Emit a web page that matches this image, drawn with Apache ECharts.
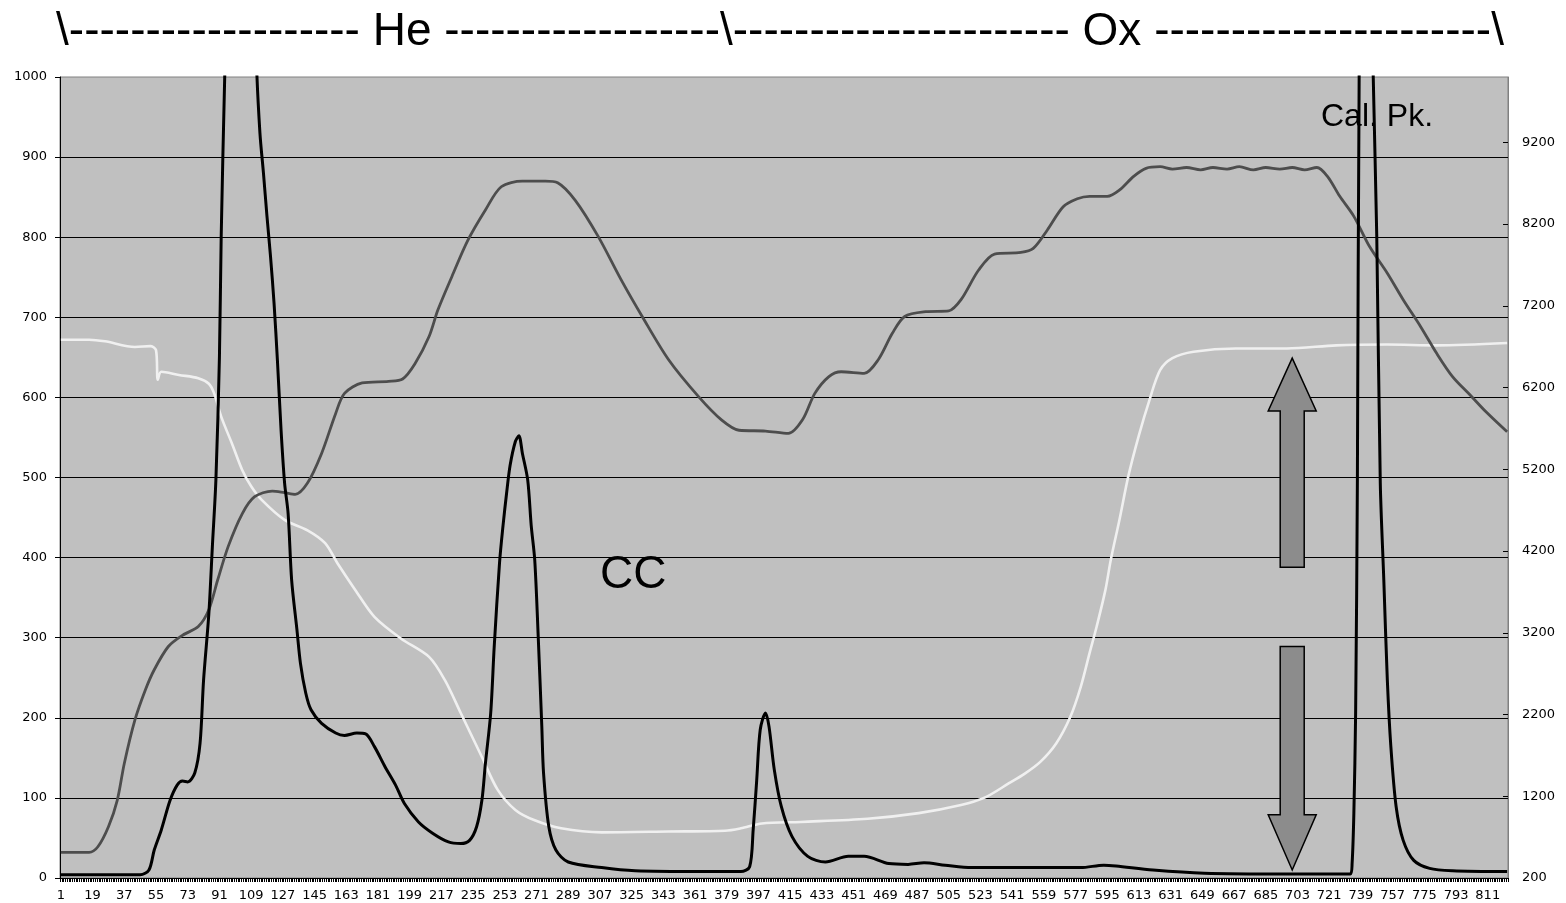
<!DOCTYPE html>
<html>
<head>
<meta charset="utf-8">
<script src="https://cdn.jsdelivr.net/npm/echarts@6/dist/echarts.min.js"></script>
<style>
html,body{margin:0;padding:0;background:#fff;}
#chart{width:1566px;height:903px;}
</style>
</head>
<body>
<div id="chart"></div>
<script>
// ---- data (sample number, value on left axis) ----
const sampleCount = 822;
const categories = Array.from({length: sampleCount}, (_, i) => String(i + 1));

const leftTicks = [0, 100, 200, 300, 400, 500, 600, 700, 800, 900, 1000];
const rightTicks = [200, 1200, 2200, 3200, 4200, 5200, 6200, 7200, 8200, 9200];

const whiteLine = [
  [1,672],[17,672],[26,670],[43,663],[52,664],[55,659],[56,622],[58,632],[68,628],[79,624],
  [85,617],[88,605],[92,576],[98,543],[104,509],[109,489],[115,472],[128,447],[141,434],[151,418],
  [158,393],[168,360],[179,326],[194,299],[210,276],[219,247],[228,206],[240,151],[249,110],[259,85],
  [270,72],[285,62],[308,57],[346,58],[378,59],[387,62],[399,68],[421,70],[459,74],[488,81],
  [512,91],[526,101],[539,118],[548,130],[557,145],[566,168],[574,201],[580,239],[585,281],[589,314],
  [594,360],[597,397],[602,448],[607,502],[613,553],[619,597],[625,634],[632,649],[644,657],[668,661],
  [697,661],[725,665],[754,666],[782,665],[822,668]
];

const greyLine = [
  [1,32],[17,32],[22,39],[28,64],[33,97],[37,143],[43,197],[49,235],[54,260],[62,289],
  [70,303],[79,314],[85,335],[90,372],[96,414],[104,455],[111,476],[121,483],[128,481],[134,479],
  [141,493],[149,530],[157,580],[162,605],[172,618],[187,620],[195,623],[202,642],[210,676],[215,709],
  [223,751],[232,796],[242,834],[251,863],[263,870],[276,870],[283,868],[293,846],[306,801],[319,747],
  [331,701],[346,647],[363,601],[376,572],[386,559],[401,558],[414,555],[422,572],[429,605],[437,626],
  [444,632],[457,630],[465,647],[473,680],[480,701],[492,707],[505,708],[512,722],[522,759],[531,779],
  [546,781],[553,786],[561,809],[570,838],[578,848],[585,851],[595,851],[602,859],[610,876],[617,886],
  [625,888],[632,885],[640,887],[648,884],[655,887],[663,885],[670,888],[678,884],[685,887],[693,885],
  [700,887],[707,884],[714,887],[720,876],[727,851],[735,826],[744,788],[754,755],[763,722],[773,688],
  [782,655],[791,626],[801,603],[810,582],[822,557]
];

const blackLine = [
  [1,4],[46,4],[51,10],[54,35],[58,60],[63,97],[67,116],[70,121],[73,120],[77,131],
  [80,168],[82,247],[85,330],[87,414],[89,497],[91,650],[92,800],[94,1000],[97,1250],[101,1420],
  [105,1450],[109,1300],[112,1020],[114,930],[116,880],[118,826],[120,776],[122,718],[124,643],[126,559],
  [128,493],[130,455],[132,372],[135,310],[137,268],[140,231],[143,210],[149,193],[157,181],[162,178],
  [169,181],[174,180],[179,164],[185,139],[191,116],[196,93],[204,70],[212,56],[221,45],[228,43],
  [233,47],[237,64],[240,97],[242,143],[245,206],[247,289],[250,393],[252,440],[254,480],[256,515],[259,545],
  [261,552],[263,530],[266,497],[268,440],[270,397],[272,300],[274,190],[275,131],[278,64],[282,35],
  [289,20],[308,13],[327,9],[365,8],[387,8],[392,14],[394,60],[396,122],[398,185],[401,206],
  [403,189],[406,135],[410,89],[416,52],[425,27],[435,20],[448,27],[457,27],[471,18],[482,17],
  [491,19],[503,16],[518,13],[545,13],[580,13],[593,16],[600,15],[621,10],[650,6],[697,5],
  [733,5],[734,18],[735,81],[736,206],[737,497],[738,1000],[740,1300],[742,1400],[744,1250],[746,1000],
  [748,801],[750,493],[752,372],[754,247],[756,164],[759,89],[763,47],[769,22],[778,12],[791,9],
  [822,8]
];

// annotation anchors (sample number, left-axis value)
const arrowSample = 700;
const upArrow = {tip: 649, head: 583, tail: 388};
const downArrow = {tail: 289, head: 79, tip: 10};
const titleText = '\\' + '-'.repeat(19) + ' He ' + '-'.repeat(18) + '\\' + '-'.repeat(22) + ' Ox ' + '-'.repeat(22) + '\\';

const toCat = arr => arr.map(([n, v]) => [n - 1, v]);
const labelFont = 'DejaVu Sans';
const textFont = '"Liberation Sans", Arial, sans-serif';

const chart = echarts.init(document.getElementById('chart'), null, {renderer: 'canvas'});
const option = {
  animation: false,
  backgroundColor: '#ffffff',
  grid: {
    left: 60, right: 58, top: 77, bottom: 25,
    show: true, backgroundColor: '#c0c0c0', borderColor: '#808080', borderWidth: 1
  },
  xAxis: {
    type: 'category',
    data: categories,
    boundaryGap: true,
    axisLine: {lineStyle: {color: '#000', width: 1}},
    axisTick: {show: true, interval: 0, length: 4, lineStyle: {color: '#000', width: 1}},
    axisLabel: {interval: 17, color: '#000', fontSize: 13, fontFamily: labelFont, margin: 11},
    splitLine: {show: false}
  },
  yAxis: [
    {
      type: 'value', min: leftTicks[0], max: leftTicks[leftTicks.length - 1], interval: 100,
      position: 'left',
      axisLine: {show: true, lineStyle: {color: '#000', width: 1}},
      axisTick: {show: true, length: 5, lineStyle: {color: '#000'}},
      axisLabel: {color: '#000', fontSize: 13, fontFamily: labelFont, margin: 13,
        formatter: v => String(v)},
      splitLine: {show: true, showMinLine: false, showMaxLine: false, lineStyle: {color: '#000', width: 1}}
    },
    {
      // ticks counted from 0 then labelled with the chart's own tick values 200, 1200, ...
      type: 'value', min: 0, max: 9800, interval: 1000,
      position: 'right',
      axisLine: {show: true, lineStyle: {color: '#808080', width: 1}},
      axisTick: {show: true, inside: true, length: 5, lineStyle: {color: '#000'}},
      axisLabel: {
        color: '#000', fontSize: 13, fontFamily: labelFont, margin: 14, showMaxLabel: false,
        formatter: v => {
          const i = Math.round(v / 1000);
          return (i < rightTicks.length && Math.abs(v - i * 1000) < 1e-6) ? String(rightTicks[i]) : '';
        }
      },
      splitLine: {show: false}
    }
  ],
  series: [
    {type: 'line', name: 'white', data: toCat(whiteLine), showSymbol: false, symbol: 'none', smooth: 0.3,
     lineStyle: {color: '#f0f0f0', width: 2.6}, z: 2, clip: true},
    {type: 'line', name: 'grey', data: toCat(greyLine), showSymbol: false, symbol: 'none', smooth: 0.3,
     lineStyle: {color: '#4d4d4d', width: 2.8}, z: 3, clip: true},
    {type: 'line', name: 'black', data: toCat(blackLine), showSymbol: false, symbol: 'none', smooth: 0.3,
     lineStyle: {color: '#000', width: 3}, z: 4, clip: true}
  ]
};
chart.setOption(option);

function px(sample, value) {
  return chart.convertToPixel({gridIndex: 0}, [sample - 1, value]);
}
function arrowPoly(cx, yTip, yHead, yTail) {
  const hw = 24, sw = 12;
  return [[cx, yTip], [cx + hw, yHead], [cx + sw, yHead], [cx + sw, yTail],
          [cx - sw, yTail], [cx - sw, yHead], [cx - hw, yHead]];
}
const cx = px(arrowSample, 0)[0];
const up = arrowPoly(cx, px(arrowSample, upArrow.tip)[1], px(arrowSample, upArrow.head)[1], px(arrowSample, upArrow.tail)[1]);
const down = arrowPoly(cx, px(arrowSample, downArrow.tip)[1], px(arrowSample, downArrow.head)[1], px(arrowSample, downArrow.tail)[1]);

chart.setOption({
  graphic: [
    {type: 'text', x: 780, y: 32, z: 10,
     style: {text: titleText, fontSize: 46, fontFamily: textFont, fill: '#000', align: 'center', verticalAlign: 'middle'}},
    {type: 'text', x: 600, y: 575, z: 10,
     style: {text: 'CC', fontSize: 46, fontFamily: textFont, fill: '#000', align: 'left', verticalAlign: 'middle'}},
    {type: 'text', x: 1321, y: 117, z: 10,
     style: {text: 'Cal. Pk.', fontSize: 32, fontFamily: textFont, fill: '#000', align: 'left', verticalAlign: 'middle'}},
    {type: 'polygon', z: 20, shape: {points: up}, style: {fill: '#8c8c8c', stroke: '#000', lineWidth: 1.5}},
    {type: 'polygon', z: 20, shape: {points: down}, style: {fill: '#8c8c8c', stroke: '#000', lineWidth: 1.5}}
  ]
});
</script>
</body>
</html>
